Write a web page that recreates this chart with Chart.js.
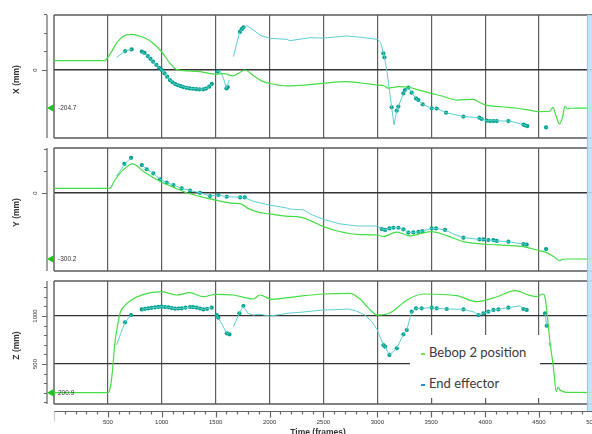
<!DOCTYPE html>
<html>
<head>
<meta charset="utf-8">
<script src="https://cdn.jsdelivr.net/npm/chart.js@4.4.0/dist/chart.umd.min.js"></script>
<style>
html,body{margin:0;padding:0;background:#fff;overflow:hidden;width:592px;height:434px;position:relative}
canvas{position:absolute;left:0}
#legend{position:absolute;left:410px;top:335px;width:130px;height:63px;background:#fff;
  font-family:Lato,"Open Sans",sans-serif;font-size:13px;color:#3a3a3a}
#legend .row{position:absolute;left:11px;line-height:14px;white-space:nowrap}
#legend .dash{display:inline-block;width:4px;height:2px;margin-right:4px;vertical-align:middle}
</style>
</head>
<body>
<canvas id="panelX" width="636" height="143" style="top:0px"></canvas>
<canvas id="panelY" width="636" height="133" style="top:143px"></canvas>
<canvas id="panelZ" width="636" height="158" style="top:276px"></canvas>
<div id="legend">
  <div class="row" style="top:10px"><span class="dash" style="background:#7fd85a"></span>Bebop 2 position</div>
  <div class="row" style="top:41px"><span class="dash" style="background:#2a8fd6"></span>End effector</div>
</div>
<script>
// ---- data (frames, mm) ----
const bebopXFrames = [0,470,500,530,580,640,720,780,845,922,1000,1077,1140,1250,1355,1500,1580,1660,1720,1770,1850,1930,2000,2160,2300,2500,2700,2850,3000,3060,3100,3200,3290,3400,3500,3600,3740,3890,3950,4000,4150,4300,4400,4500,4600,4630,4660,4690,4720,4740,4765,4790,4850,5600];
const bebopX = [50,50,68,95,143,180,192,185,172,143,97,36,2,-5,-9,-22,-20,-32,-15,0,-30,-60,-72,-86,-82,-72,-63,-70,-81,-85,-98,-90,-93,-110,-126,-140,-162,-158,-175,-188,-198,-206,-215,-224,-222,-201,-250,-291,-250,-194,-210,-206,-205,-204.7];

const effXFrames = [580,620,660,720,760,815,870,920,1000,1075,1120,1170,1260,1385,1430,1465,1490,1510,1540,1570,1600,1625,1645,1665,1690,1720,1750,1790,1850,1920,2000,2160,2190,2375,2500,2715,2850,3000,3030,3056,3066,3090,3133,3155,3180,3195,3242,3288,3319,3359,3421,3505,3551,3638,3799,3947,4015,4216,4300,4392,4450,4566,4580];
const effX = [68,85,102,111,null,99,75,45,0,-54,-75,-86,-99,-104,-95,-75,null,-9,-4,-40,-99,-54,null,72,130,201,225,239,215,185,171,165,158,174,172,183,176,165,150,90,68,-9,-201,-296,-219,-197,-126,-95,-122,-153,-185,-206,-208,-230,-251,-257,-273,-275,-285,-302,null,-309,-312];
const effXDotFrames = [660,720,815,840,870,895,920,950,975,1000,1025,1050,1075,1100,1125,1150,1175,1200,1230,1260,1290,1320,1350,1385,1410,1440,1465,1520,1600,1612,1725,1742,1758,3056,3066,3133,3180,3195,3242,3257,3288,3319,3359,3381,3421,3505,3551,3638,3799,3947,3969,4015,4046,4077,4108,4216,4355,4370,4392,4566];
const effXDots = [102,111,99,92,75,60,45,28,12,0,-18,-36,-54,-66,-76,-82,-87,-92,-96,-99,-101,-103,-104,-104,-100,-90,-75,-9,-99,-92,205,220,230,90,68,-201,-219,-197,-126,-108,-95,-122,-153,-162,-185,-206,-208,-230,-251,-257,-264,-273,-275,-275,-275,-275,-294,-298,-302,-309];

const bebopYFrames = [0,500,520,565,642,730,834,1000,1100,1232,1350,1500,1665,1725,1800,1900,2000,2150,2285,2400,2500,2650,2810,3000,3055,3180,3305,3400,3500,3650,3800,4000,4200,4355,4500,4570,4640,4690,4720,4760,5600];
const bebopY = [21,21,22,59,105,132,97,49,28,1,-15,-32,-47,-48,-70,-88,-95,-105,-110,-130,-153,-175,-188,-191,-198,-178,-195,-185,-176,-195,-221,-233,-238,-244,-262,-271,-290,-307,-301,-300,-300.2];

const effYFrames = [580,620,655,715,765,815,860,922,984,1046,1108,1185,1262,1355,1448,1525,1603,1680,1760,1850,2000,2150,2190,2315,2400,2500,2650,2810,3000,3041,3072,3112,3149,3195,3242,3288,3334,3381,3418,3505,3545,3628,3700,3799,3947,3984,4030,4108,4216,4355,4386,4450,4566,4575];
const effY = [77,105,132,160,null,127,108,89,62,47,36,21,11,1,-14,-9,-17,-18,-20,-38,-55,-67,-73,-77,-100,-120,-140,-150,-150,-164,-168,-161,-158,-158,-165,-180,-179,-177,-173,-161,-161,-168,-185,-203,-211,-211,-214,-218,-221,-232,-235,null,-255,-257];
const effYDotFrames = [653,715,815,860,922,984,1046,1108,1185,1262,1355,1448,1525,1603,1727,1770,3041,3072,3112,3149,3195,3242,3288,3334,3381,3418,3505,3545,3628,3799,3947,3984,4030,4077,4108,4216,4355,4386,4566];
const effYDots = [132,160,127,108,89,62,47,36,21,11,1,-14,-9,-17,-20,-20,-164,-168,-161,-158,-158,-165,-180,-179,-177,-173,-161,-161,-168,-203,-211,-211,-214,-214,-218,-221,-232,-235,-255];

const bebopZFrames = [0,500,520,540,566,590,612,650,705,830,1000,1140,1260,1385,1500,1665,1850,1910,2020,2285,2500,2745,2840,2920,3000,3120,3200,3275,3430,3735,3925,4110,4280,4400,4480,4535,4555,4570,4600,4635,4660,4675,4695,4720,4760,5600];
const bebopZ = [200.9,200.9,247,400,732,900,1028,1100,1156,1226,1253,1219,1243,1201,1226,1219,1177,1219,1174,1208,1229,1236,1177,1080,1010,1034,1100,1167,1229,1212,1149,1201,1264,1220,1201,1229,1200,1080,750,455,211,260,229,215,205,200.9];

const effZFrames = [580,620,659,715,760,814,875,937,999,1061,1123,1185,1262,1324,1386,1463,1490,1510,1525,1560,1603,1627,1645,1665,1720,1757,1800,1850,1900,2000,2100,2160,2300,2500,2600,2730,2800,2885,2950,3000,3056,3072,3112,3180,3242,3273,3319,3359,3412,3505,3551,3644,3799,3900,3938,3984,4030,4077,4123,4216,4325,4355,4386,4450,4556,4572,4585,4593,4602];
const effZ = [698,820,934,1010,null,1069,1080,1090,1097,1090,1076,1080,1094,1087,1069,1087,null,1010,983,910,820,809,null,889,1028,1104,1028,1010,1020,1000,1015,1028,1040,1063,1065,1073,1055,1010,940,854,698,680,594,663,809,854,1045,1080,1080,1087,1080,1073,1069,1040,1010,1028,1045,1063,1069,1087,1107,1073,1063,null,1028,899,null,720,690];
const effZDotFrames = [659,715,814,845,875,905,937,968,999,1030,1061,1092,1123,1155,1185,1220,1262,1290,1324,1355,1386,1420,1463,1510,1525,1603,1627,1720,1757,3056,3072,3112,3180,3242,3273,3319,3359,3412,3505,3551,3644,3799,3938,3984,4030,4077,4123,4216,4355,4386,4556,4572];
const effZDots = [934,1010,1069,1075,1080,1085,1090,1095,1097,1093,1090,1083,1076,1078,1080,1088,1094,1092,1087,1078,1069,1075,1087,1010,983,820,809,1028,1104,698,680,594,663,809,854,1045,1080,1080,1087,1080,1073,1069,1010,1028,1045,1063,1069,1087,1073,1063,1028,899];

// current-frame readout at the left of each panel
const markerValues = [-204.7, -300.2, 200.9];
const axisTitles = ['X (mm)', 'Y (mm)', 'Z (mm)'];
const timeTicks = [500,1000,1500,2000,2500,3000,3500,4000,4500,5000];

const GREEN = '#45dd45';
const CYAN = '#5ccfd0';
const TEAL = '#00a08a';
const FONT = '"Liberation Sans", Arial, sans-serif';
const PX_PER_FRAME = 0.10778;   // horizontal zoom of the time axis

const pts = (fr, vals) => fr.map((f, i) => ({x: f, y: vals[i]}));

const decor = {
  id: 'decor',
  beforeDatasetsDraw(chart, args, o) {
    const {ctx, chartArea: a} = chart;
    ctx.save();
    ctx.strokeStyle = '#5a5a5a';
    ctx.lineWidth = 1.4;
    ctx.beginPath();
    ctx.moveTo(a.left, a.top); ctx.lineTo(a.right, a.top);
    ctx.moveTo(a.left, a.bottom); ctx.lineTo(a.right, a.bottom);
    ctx.moveTo(a.left, a.top); ctx.lineTo(a.left, a.bottom);
    ctx.stroke();
    ctx.restore();
  },
  afterDatasetsDraw(chart, args, o) {
    const {ctx, chartArea: a, scales: {x}} = chart;
    const x0 = x.getPixelForValue(4945), x1 = x.getPixelForValue(5150);
    const top = o.bandTop === 'area' ? a.top : 0;
    const bottom = o.timeAxis ? a.bottom + 7 : chart.height;
    ctx.save();
    ctx.fillStyle = 'rgba(180,229,246,0.9)';
    ctx.fillRect(x0, top, x1 - x0, bottom - top);
    ctx.fillStyle = 'rgba(130,205,235,0.9)';
    ctx.fillRect(x0, top, 1, bottom - top);
    ctx.restore();
  },
  afterDraw(chart, args, o) {
    const {ctx, chartArea: a, scales: {x, y}} = chart;
    const ax = a.left - 7;
    ctx.save();
    // left axis
    ctx.strokeStyle = '#666';
    ctx.lineWidth = 1.2;
    ctx.beginPath();
    ctx.moveTo(ax, a.top); ctx.lineTo(ax, a.bottom);
    o.axisTicks.forEach(v => {
      const py = Math.round(y.getPixelForValue(v)) + 0.5;
      const len = o.axisLabels.includes(v) ? 5 : 3;
      ctx.moveTo(ax - len, py); ctx.lineTo(ax, py);
    });
    ctx.stroke();
    ctx.fillStyle = '#333';
    ctx.font = '6px ' + FONT;
    ctx.textAlign = 'center';
    ctx.textBaseline = 'middle';
    o.axisLabels.forEach(v => {
      ctx.save();
      ctx.translate(ax - 12, y.getPixelForValue(v));
      ctx.rotate(-Math.PI / 2);
      ctx.fillText(String(v), 0, 0);
      ctx.restore();
    });
    ctx.save();
    ctx.font = 'bold 8.5px ' + FONT;
    ctx.translate(17, (a.top + a.bottom) / 2 + 3);
    ctx.rotate(-Math.PI / 2);
    ctx.fillText(o.title, 0, 0);
    ctx.restore();
    // current value marker
    const my = y.getPixelForValue(o.marker);
    ctx.fillStyle = '#1fc21f';
    ctx.beginPath();
    ctx.moveTo(ax, my); ctx.lineTo(a.left, my - 4); ctx.lineTo(a.left, my + 4);
    ctx.closePath(); ctx.fill();
    ctx.fillStyle = '#333';
    ctx.font = '6.5px ' + FONT;
    ctx.textAlign = 'left';
    ctx.fillText(String(o.marker), a.left + 4, my);
    // time axis
    if (o.timeAxis) {
      const by = a.bottom + 7.5;
      ctx.strokeStyle = '#666';
      ctx.lineWidth = 1.2;
      ctx.beginPath();
      ctx.moveTo(a.left, by); ctx.lineTo(a.right, by);
      for (let f = 100; f <= x.max; f += 100) {
        const px = Math.round(x.getPixelForValue(f)) + 0.5;
        const len = f % 500 === 0 ? 6 : 3;
        ctx.moveTo(px, by); ctx.lineTo(px, by + len);
      }
      ctx.stroke();
      ctx.strokeStyle = '#ccc';
      ctx.beginPath();
      ctx.moveTo(a.left + 0.5, by); ctx.lineTo(a.left + 0.5, by + 10);
      ctx.stroke();
      ctx.fillStyle = '#333';
      ctx.font = '6px ' + FONT;
      ctx.textAlign = 'center';
      timeTicks.forEach(t => ctx.fillText(String(t), x.getPixelForValue(t), by + 11));
      ctx.font = 'bold 8.5px ' + FONT;
      ctx.fillText('Time (frames)', x.getPixelForValue(2450), by + 21);
    }
    ctx.restore();
  }
};

function makePanel(id, cfg) {
  const chart = new Chart(document.getElementById(id), {
    type: 'line',
    data: {
      datasets: [
        {label: 'Bebop 2 position', data: pts(cfg.gF, cfg.g), borderColor: GREEN, borderWidth: 1.2,
         pointRadius: 0, cubicInterpolationMode: 'monotone'},
        {label: 'End effector', data: pts(cfg.bF, cfg.b), borderColor: CYAN, borderWidth: 1,
         pointRadius: 0, spanGaps: false},
        {label: 'End effector samples', data: pts(cfg.dF, cfg.d), showLine: false,
         pointRadius: 2.1, pointBackgroundColor: TEAL, pointBorderWidth: 0}
      ]
    },
    options: {
      responsive: false,
      animation: false,
      events: [],
      layout: {padding: {left: 54, right: 0, top: cfg.padTop, bottom: cfg.padBottom}},
      plugins: {
        legend: {display: false},
        tooltip: {enabled: false},
        decor: {title: cfg.title, marker: cfg.marker, axisTicks: cfg.axisTicks, axisLabels: cfg.axisLabels,
                timeAxis: cfg.timeAxis, bandTop: cfg.bandTop}
      },
      scales: {
        x: {type: 'linear', min: 0, max: 5400,
            afterBuildTicks: s => { s.ticks = timeTicks.map(v => ({value: v})); },
            ticks: {display: false},
            grid: {color: '#5e5e5e', lineWidth: 1.2, drawTicks: false},
            border: {display: false}},
        y: {min: cfg.min, max: cfg.max,
            afterBuildTicks: s => { s.ticks = cfg.gridLines.map(v => ({value: v})); },
            ticks: {display: false},
            grid: {color: '#333', lineWidth: cfg.gridWidth, drawTicks: false},
            border: {display: false}}
      }
    },
    plugins: [decor]
  });
  // fit the frame range to the plot width so all panels share the same time zoom
  const a = chart.chartArea;
  chart.options.scales.x.max = Math.round((a.right - a.left) / PX_PER_FRAME);
  chart.update();
  return chart;
}

makePanel('panelX', {gF: bebopXFrames, g: bebopX, bF: effXFrames, b: effX, dF: effXDotFrames, d: effXDots,
  min: -366.2, max: 296.2, gridLines: [0], gridWidth: 1.6, padTop: 15, padBottom: 5,
  title: axisTitles[0], marker: markerValues[0], axisTicks: [0, 100, 200, 300], axisLabels: [0], bandTop: 'area'});
makePanel('panelY', {gF: bebopYFrames, g: bebopY, bF: effYFrames, b: effY, dF: effYDotFrames, d: effYDots,
  min: -354.5, max: 204.5, gridLines: [0], gridWidth: 1.6, padTop: 5, padBottom: 5,
  title: axisTitles[1], marker: markerValues[1], axisTicks: [0, 100, 200], axisLabels: [0]});
makePanel('panelZ', {gF: bebopZFrames, g: bebopZ, bF: effZFrames, b: effZ, dF: effZDotFrames, d: effZDots,
  min: 83.3, max: 1364.6, gridLines: [500, 1000], gridWidth: 1.2, padTop: 5, padBottom: 30,
  title: axisTitles[2], marker: markerValues[2],
  axisTicks: [100,200,300,400,500,600,700,800,900,1000,1100,1200,1300], axisLabels: [500, 1000], timeAxis: true});
</script>
</body>
</html>
